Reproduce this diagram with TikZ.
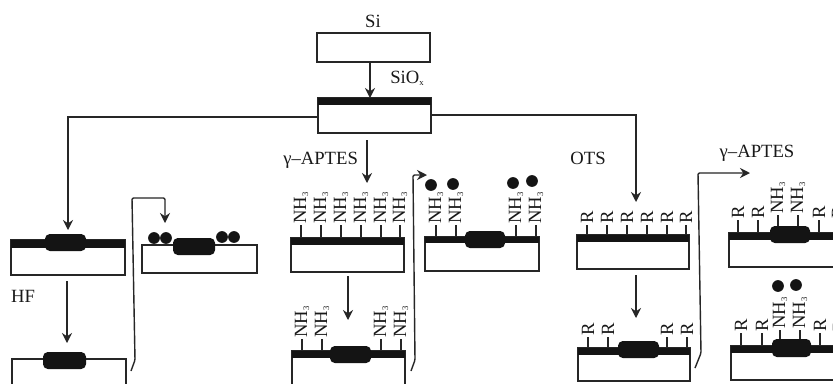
\documentclass[tikz,border=0pt]{standalone}
\usepackage{fontspec}
\setmainfont{Liberation Serif}
\usetikzlibrary{arrows.meta}
\tikzset{
  wafer/.style={draw=black!85,line width=1.05pt,fill=white,inner sep=0pt,outer sep=0pt},
  film/.style={fill=black!92},
  bump/.style={fill=black!92,rounded corners=3.6pt},
  conn/.style={draw=black!85,line width=1.05pt},
  flow/.style={conn,-{Stealth[length=7.5pt,width=7.5pt]}},
  stick/.style={draw=black!85,line width=0.8pt},
  lbl/.style={font=\fontsize{14}{14}\selectfont,inner sep=0pt,text=black!90},
  chem/.style={lbl,rotate=90,anchor=west,inner sep=0.8pt},
  dot/.style={circle,fill=black!92,minimum size=8.8pt,inner sep=0pt}
}
\newcommand{\tinysub}[1]{\raisebox{-1.5pt}{\fontsize{6.5}{6.5}\selectfont #1}}
% name, x1, x2, ytop, ybottom
\newcommand{\waferbox}[5]{%
  \pgfmathsetmacro{\wbw}{(#3-#2)*0.75}\pgfmathsetmacro{\wbh}{(#5-#4)*0.75}%
  \node[wafer,minimum width=\wbw pt,minimum height=\wbh pt,anchor=north west] (#1) at (#2,#4) {};}
% x1,x2,ytop,ybottom
\newcommand{\filmbar}[4]{\fill[film] (#1,#3) rectangle (#2,#4);}
\newcommand{\bumpbar}[4]{\fill[bump] (#1,#3) rectangle (#2,#4);}
% name, x, ytop, ybase
\newcommand{\nhthree}[4]{\node[chem] (#1) at (#2,#3) {NH\tinysub{3}}; \draw[stick] (#1.west) -- (#2,#4);}
\newcommand{\rchain}[4]{\node[chem] (#1) at (#2,#3) {R}; \draw[stick] (#1.west) -- (#2,#4);}
\begin{document}
\begin{tikzpicture}[x=0.75pt,y=-0.75pt]
\useasboundingbox (0,0) rectangle (833,383);
\clip (0,0) rectangle (833,383);
\fill[white] (0,0) rectangle (833,383);

% top
\node[lbl] (tsi) at (373,21) {Si};
\waferbox{si}{317}{430}{33}{62}
\node[lbl,anchor=west] (tox) at (390,78) {SiO\tinysub{x}};
\waferbox{ox}{318}{431}{98}{133}
\filmbar{318}{431}{98}{105}
\coordinate (a0) at (370,62); \coordinate (a1) at (370,98);
\draw[flow] (a0) -- (a1);

% left column
\waferbox{l1}{11}{125}{240}{275}
\filmbar{11}{125}{240}{248}
\bumpbar{45}{86}{234}{251}
\waferbox{l2}{12}{126}{359}{410}
\bumpbar{43}{86}{352}{369}
\node[lbl] (hf) at (23,296) {HF};
\coordinate (b0) at (318,117); \coordinate (b1) at (68,230);
\draw[flow] (b0) -| (b1);
\coordinate (c0) at (67,281); \coordinate (c1) at (67,343);
\draw[flow] (c0) -- (c1);
\coordinate (d0) at (131,371); \coordinate (d1) at (135,360); \coordinate (d2) at (132,198); \coordinate (d3) at (165,223);
\draw[flow,rounded corners=1pt] (d0) -- (d1) -- (d2) -| (d3);
\waferbox{l3}{142}{257}{245}{273}
\bumpbar{173}{215}{238}{255}
\node[dot] (p1) at (154,238) {};
\node[dot] (p2) at (166,238) {};
\node[dot] (p3) at (222,237) {};
\node[dot] (p4) at (234,237) {};

% centre column
\node[lbl,anchor=west] (ap1) at (283,160) {γ–APTES};
\coordinate (e0) at (367,140); \coordinate (e1) at (367,183);
\draw[flow] (e0) -- (e1);
\waferbox{c1b}{291}{404}{238}{272}
\filmbar{291}{404}{238}{245}
\nhthree{n1}{301}{225}{238}
\nhthree{n2}{321}{225}{238}
\nhthree{n3}{341}{225}{238}
\nhthree{n4}{361}{225}{238}
\nhthree{n5}{381}{225}{238}
\nhthree{n6}{400}{225}{238}
\coordinate (f0) at (348,276); \coordinate (f1) at (348,320);
\draw[flow] (f0) -- (f1);
\waferbox{c2b}{292}{405}{351}{410}
\filmbar{292}{405}{351}{358}
\bumpbar{330}{371}{346}{363}
\nhthree{n7}{302}{339}{351}
\nhthree{n8}{322}{339}{351}
\nhthree{n9}{381}{339}{351}
\nhthree{n10}{401}{339}{351}
\coordinate (g0) at (411,371); \coordinate (g1) at (415,360); \coordinate (g2) at (413,175); \coordinate (g3) at (427,175);
\draw[flow,rounded corners=1pt] (g0) -- (g1) -- (g2) -- (g3);
\waferbox{c3b}{425}{539}{237}{271}
\filmbar{425}{539}{237}{243}
\bumpbar{465}{505}{231}{248}
\nhthree{n11}{436}{225}{237}
\nhthree{n12}{456}{225}{237}
\nhthree{n13}{516}{225}{237}
\nhthree{n14}{536}{225}{237}
\node[dot] (q1) at (431,185) {};
\node[dot] (q2) at (453,184) {};
\node[dot] (q3) at (513,183) {};
\node[dot] (q4) at (532,181) {};

% right column
\node[lbl] (ots) at (588,158) {OTS};
\coordinate (h0) at (431,115); \coordinate (h1) at (636,202);
\draw[flow] (h0) -| (h1);
\waferbox{r1}{577}{689}{235}{269}
\filmbar{577}{689}{235}{242}
\rchain{r1a}{587}{225}{235}
\rchain{r1b}{607}{225}{235}
\rchain{r1c}{627}{225}{235}
\rchain{r1d}{647}{225}{235}
\rchain{r1e}{667}{225}{235}
\rchain{r1f}{686}{225}{235}
\coordinate (i0) at (636,275); \coordinate (i1) at (636,318);
\draw[flow] (i0) -- (i1);
\waferbox{r2}{578}{690}{348}{381}
\filmbar{578}{690}{348}{355}
\bumpbar{618}{659}{341}{358}
\rchain{r2a}{588}{337}{348}
\rchain{r2b}{608}{337}{348}
\rchain{r2c}{667}{337}{348}
\rchain{r2d}{687}{337}{348}
\coordinate (j0) at (695,368); \coordinate (j1) at (701,353); \coordinate (j2) at (698,173); \coordinate (j3) at (750,173);
\draw[flow,rounded corners=1pt] (j0) -- (j1) -- (j2) -- (j3);
\node[lbl] (ap2) at (757,153) {γ–APTES};

\waferbox{s1}{729}{860}{233}{267}
\filmbar{729}{860}{233}{240}
\bumpbar{770}{810}{226}{243}
\rchain{s1a}{738}{220}{233}
\rchain{s1b}{758}{220}{233}
\nhthree{s1c}{778}{215}{226}
\nhthree{s1d}{798}{215}{226}
\rchain{s1e}{819}{220}{233}
\rchain{s1f}{838}{220}{233}

\waferbox{s2}{731}{860}{346}{380}
\filmbar{731}{860}{346}{353}
\bumpbar{772}{811}{339}{357}
\rchain{s2a}{741}{333}{346}
\rchain{s2b}{762}{333}{346}
\nhthree{s2c}{780}{330}{339}
\nhthree{s2d}{800}{330}{339}
\rchain{s2e}{820}{333}{346}
\rchain{s2f}{839}{333}{346}
\node[dot] (t1) at (778,286) {};
\node[dot] (t2) at (796,285) {};
\end{tikzpicture}
\end{document}
